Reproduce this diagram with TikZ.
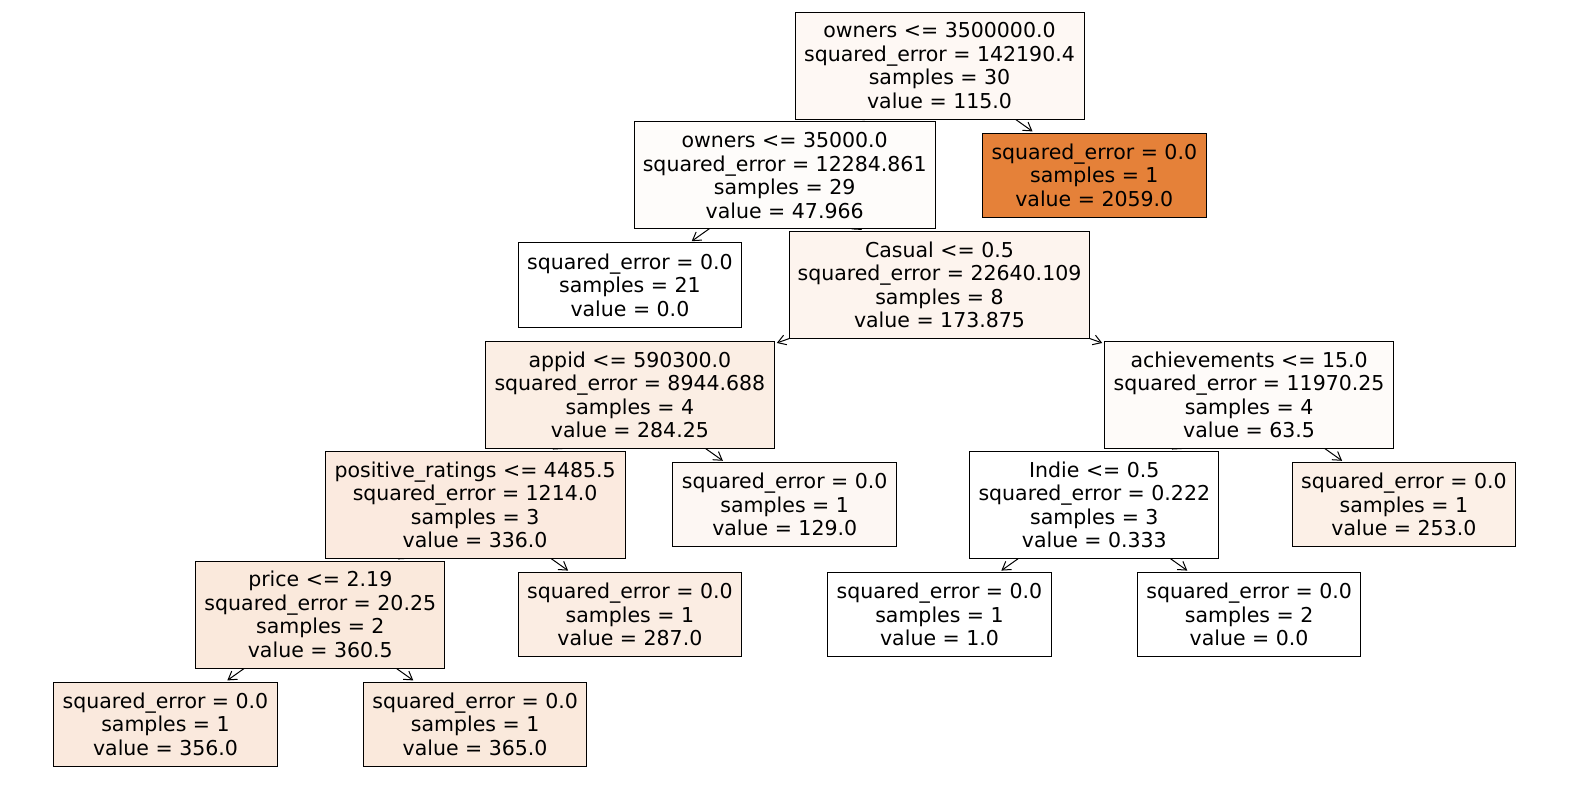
\documentclass[tikz,border=0pt]{standalone}
\usepackage{fontspec}
\setmainfont{DejaVu Sans}
\usetikzlibrary{arrows.meta}
\pgfdeclarelayer{bg}
\pgfsetlayers{bg,main}
\definecolor{cRoot}{RGB}{254,248,244}
\definecolor{cA}{RGB}{254,252,250}
\definecolor{cOr}{RGB}{229,129,57}
\definecolor{cCas}{RGB}{253,244,238}
\definecolor{cApp}{RGB}{251,238,228}
\definecolor{cAch}{RGB}{254,251,249}
\definecolor{cPos}{RGB}{251,234,223}
\definecolor{cL129}{RGB}{253,247,243}
\definecolor{cL253}{RGB}{252,240,231}
\definecolor{cPrice}{RGB}{250,233,220}
\definecolor{cL287}{RGB}{251,237,227}
\definecolor{cL356}{RGB}{250,233,221}
\definecolor{cL365}{RGB}{250,233,220}
\begin{document}
\begin{tikzpicture}[x=1pt,y=-1pt,
  box/.style={draw=black, line width=1pt, align=center, inner sep=0pt,
    minimum height=107pt, font=\fontsize{20.5}{23.5}\selectfont},
  leaf/.style={box, minimum height=84.5pt, minimum width=223.5pt},
  conn/.style={-{Straight Barb[length=8pt,width=10pt]}, line width=1pt, shorten >=2pt}]
\useasboundingbox (0,0) rectangle (1570,790);

\node[box, fill=cRoot, minimum width=289pt] (n0) at (939.5,65.5)
  {owners <= 3500000.0\\squared\_error = 142190.4\\samples = 30\\value = 115.0};
\node[box, fill=cA, minimum width=301pt] (n1) at (784.7,175.3)
  {owners <= 35000.0\\squared\_error = 12284.861\\samples = 29\\value = 47.966};
\node[leaf, fill=cOr] (n16) at (1094.3,175.3)
  {squared\_error = 0.0\\samples = 1\\value = 2059.0};
\node[leaf, fill=white] (n2) at (629.9,285.1)
  {squared\_error = 0.0\\samples = 21\\value = 0.0};
\node[box, fill=cCas, minimum width=300pt] (n3) at (939.5,285.1)
  {Casual <= 0.5\\squared\_error = 22640.109\\samples = 8\\value = 173.875};
\node[box, fill=cApp, minimum width=289pt] (n4) at (629.9,394.9)
  {appid <= 590300.0\\squared\_error = 8944.688\\samples = 4\\value = 284.25};
\node[box, fill=cAch, minimum width=289pt] (n10) at (1249.1,394.9)
  {achievements <= 15.0\\squared\_error = 11970.25\\samples = 4\\value = 63.5};
\node[box, fill=cPos, minimum width=300pt] (n5) at (475.1,504.7)
  {positive\_ratings <= 4485.5\\squared\_error = 1214.0\\samples = 3\\value = 336.0};
\node[leaf, fill=cL129] (n9) at (784.7,504.7)
  {squared\_error = 0.0\\samples = 1\\value = 129.0};
\node[box, fill=white, minimum width=249pt] (n11) at (1094.3,504.7)
  {Indie <= 0.5\\squared\_error = 0.222\\samples = 3\\value = 0.333};
\node[leaf, fill=cL253] (n14) at (1403.9,504.7)
  {squared\_error = 0.0\\samples = 1\\value = 253.0};
\node[box, fill=cPrice, minimum width=249pt] (n6) at (320.3,614.5)
  {price <= 2.19\\squared\_error = 20.25\\samples = 2\\value = 360.5};
\node[leaf, fill=cL287] (n8) at (629.9,614.5)
  {squared\_error = 0.0\\samples = 1\\value = 287.0};
\node[leaf, fill=white] (n12) at (939.5,614.5)
  {squared\_error = 0.0\\samples = 1\\value = 1.0};
\node[leaf, fill=white] (n13) at (1249.1,614.5)
  {squared\_error = 0.0\\samples = 2\\value = 0.0};
\node[leaf, fill=cL356] (n7a) at (165.5,724.3)
  {squared\_error = 0.0\\samples = 1\\value = 356.0};
\node[leaf, fill=cL365] (n7b) at (475.1,724.3)
  {squared\_error = 0.0\\samples = 1\\value = 365.0};

\begin{pgfonlayer}{bg}
\fill[white] (0,0) rectangle (1570,790);
\draw[conn] (n0.center) -- (n1);
\draw[conn] (n0.center) -- (n16);
\draw[conn] (n1.center) -- (n2);
\draw[conn] (n1.center) -- (n3);
\draw[conn] (n3.center) -- (n4);
\draw[conn] (n3.center) -- (n10);
\draw[conn] (n4.center) -- (n5);
\draw[conn] (n4.center) -- (n9);
\draw[conn] (n5.center) -- (n6);
\draw[conn] (n5.center) -- (n8);
\draw[conn] (n6.center) -- (n7a);
\draw[conn] (n6.center) -- (n7b);
\draw[conn] (n10.center) -- (n11);
\draw[conn] (n10.center) -- (n14);
\draw[conn] (n11.center) -- (n12);
\draw[conn] (n11.center) -- (n13);
\end{pgfonlayer}
\end{tikzpicture}
\end{document}
